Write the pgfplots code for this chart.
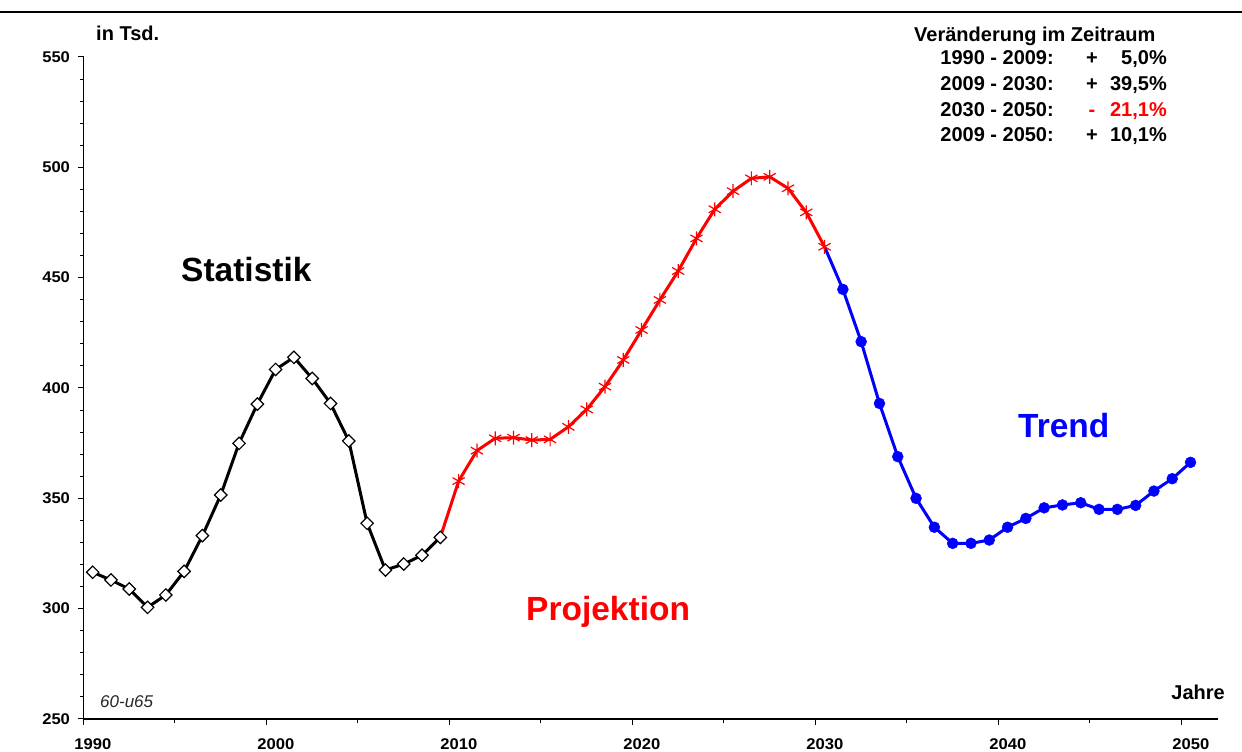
\documentclass[border=0pt]{standalone}
\usepackage{fontspec}
\setmainfont{Liberation Sans}
\newfontfamily\tickfont{Liberation Sans}[FakeStretch=1.07]
\usepackage{pgfplots}
\usepackage{pgfplotstable}
\pgfplotsset{compat=1.18}

% Bevoelkerung 60 bis unter 65, in Tsd.
\pgfplotstableread{
year val
1990 316.5
1991 313.0
1992 308.9
1993 300.6
1994 306.2
1995 316.9
1996 333.1
1997 351.5
1998 374.9
1999 392.7
2000 408.4
2001 413.9
2002 404.3
2003 393.0
2004 376.0
2005 338.7
2006 317.5
2007 320.2
2008 324.2
2009 332.3
2010 357.8
2011 371.6
2012 377.2
2013 377.5
2014 376.4
2015 376.7
2016 382.4
2017 390.3
2018 400.6
2019 412.7
2020 426.3
2021 439.9
2022 453.0
2023 467.8
2024 481.0
2025 489.2
2026 495.0
2027 495.7
2028 490.5
2029 479.6
2030 464.0
2031 444.7
2032 421.0
2033 393.0
2034 368.9
2035 350.0
2036 336.9
2037 329.6
2038 329.6
2039 331.1
2040 336.9
2041 340.9
2042 345.7
2043 347.0
2044 348.0
2045 345.0
2046 345.0
2047 346.8
2048 353.3
2049 358.9
2050 366.3
}\data

\begin{document}
\begin{tikzpicture}[x=1pt,y=1pt]
\path[use as bounding box] (0,0) rectangle (1242,752);
\draw[line width=2pt] (0,740) -- (1242,740);

\begin{axis}[
    at={(83.5pt,33pt)}, anchor=south west,
    scale only axis, width=1134.5pt, height=662pt,
    xmin=1990, xmax=2052, ymin=250, ymax=550,
    axis x line*=bottom, axis y line*=left,
    axis line style={line width=1.2pt, -},
    xtick={1990,2000,...,2050},
    minor xtick={1995,2005,...,2045},
    ytick={250,300,...,550},
    minor ytick={260,270,...,540},
    tick align=outside,
    major tick length=6pt, minor tick length=4pt,
    every tick/.style={black, line width=1pt},
    /pgf/number format/assume math mode=true,
    /pgf/number format/1000 sep={},
    ticklabel style={font=\tickfont\bfseries\fontsize{15.5}{15.5}\selectfont},
    xticklabel style={xshift=9.4pt, yshift=-10pt},
    yticklabel style={xshift=-4pt},
    clip=false,
    x filter/.expression={x+0.5},
]
% Verbindungslinien
\addplot[red, line width=3pt, no marks, restrict x to domain=2009:2031]
    table[x=year, y=val] {\data};
\addplot[blue, line width=3pt, no marks, restrict x to domain=2030:2051]
    table[x=year, y=val] {\data};
% Statistik
\addplot[black, line width=3pt, mark=square*, mark size=4.4pt,
    mark options={fill=white, line width=1.2pt, solid, rotate=45},
    restrict x to domain=1990:2010]
    table[x=year, y=val] {\data};
% Projektion
\addplot[red, only marks, mark=asterisk, mark size=7pt,
    mark options={line width=1.2pt},
    restrict x to domain=2010:2031]
    table[x=year, y=val] {\data};
% Trend
\addplot[blue, only marks, mark=*, mark size=5.5pt,
    restrict x to domain=2031:2051]
    table[x=year, y=val] {\data};
\end{axis}

\begin{scope}[every node/.style={inner sep=0pt}]
\node[anchor=base west, font=\bfseries\fontsize{20}{20}\selectfont] at (96,711) {in Tsd.};
\node[anchor=base east, font=\bfseries\fontsize{20}{20}\selectfont] at (1225,52) {Jahre};
\node[anchor=base west, font=\itshape\fontsize{17}{17}\selectfont, black!85] at (100,44) {60-u65};

\node[anchor=base west, font=\bfseries\fontsize{33.5}{33.5}\selectfont] at (181,470) {Statistik};
\node[anchor=base west, font=\bfseries\fontsize{33.5}{33.5}\selectfont, red] at (526,131) {Projektion};
\node[anchor=base west, font=\bfseries\fontsize{33.5}{33.5}\selectfont, blue] at (1018,314) {Trend};

\begin{scope}[font=\bfseries\fontsize{20}{20}\selectfont]
\node[anchor=base west] at (914,710.5) {Veränderung im Zeitraum};
\node[anchor=base east] at (1054,687) {1990 - 2009:};
\node[anchor=base east] at (1054,661.3) {2009 - 2030:};
\node[anchor=base east] at (1054,635.5) {2030 - 2050:};
\node[anchor=base east] at (1054,610.3) {2009 - 2050:};
\node[anchor=base] at (1092,687) {+};
\node[anchor=base] at (1092,661.3) {+};
\node[anchor=base, red] at (1092,635.5) {-};
\node[anchor=base] at (1092,610.3) {+};
\node[anchor=base east] at (1167,687) {5,0\%};
\node[anchor=base east] at (1167,661.3) {39,5\%};
\node[anchor=base east, red] at (1167,635.5) {21,1\%};
\node[anchor=base east] at (1167,610.3) {10,1\%};
\end{scope}
\end{scope}
\end{tikzpicture}
\end{document}
